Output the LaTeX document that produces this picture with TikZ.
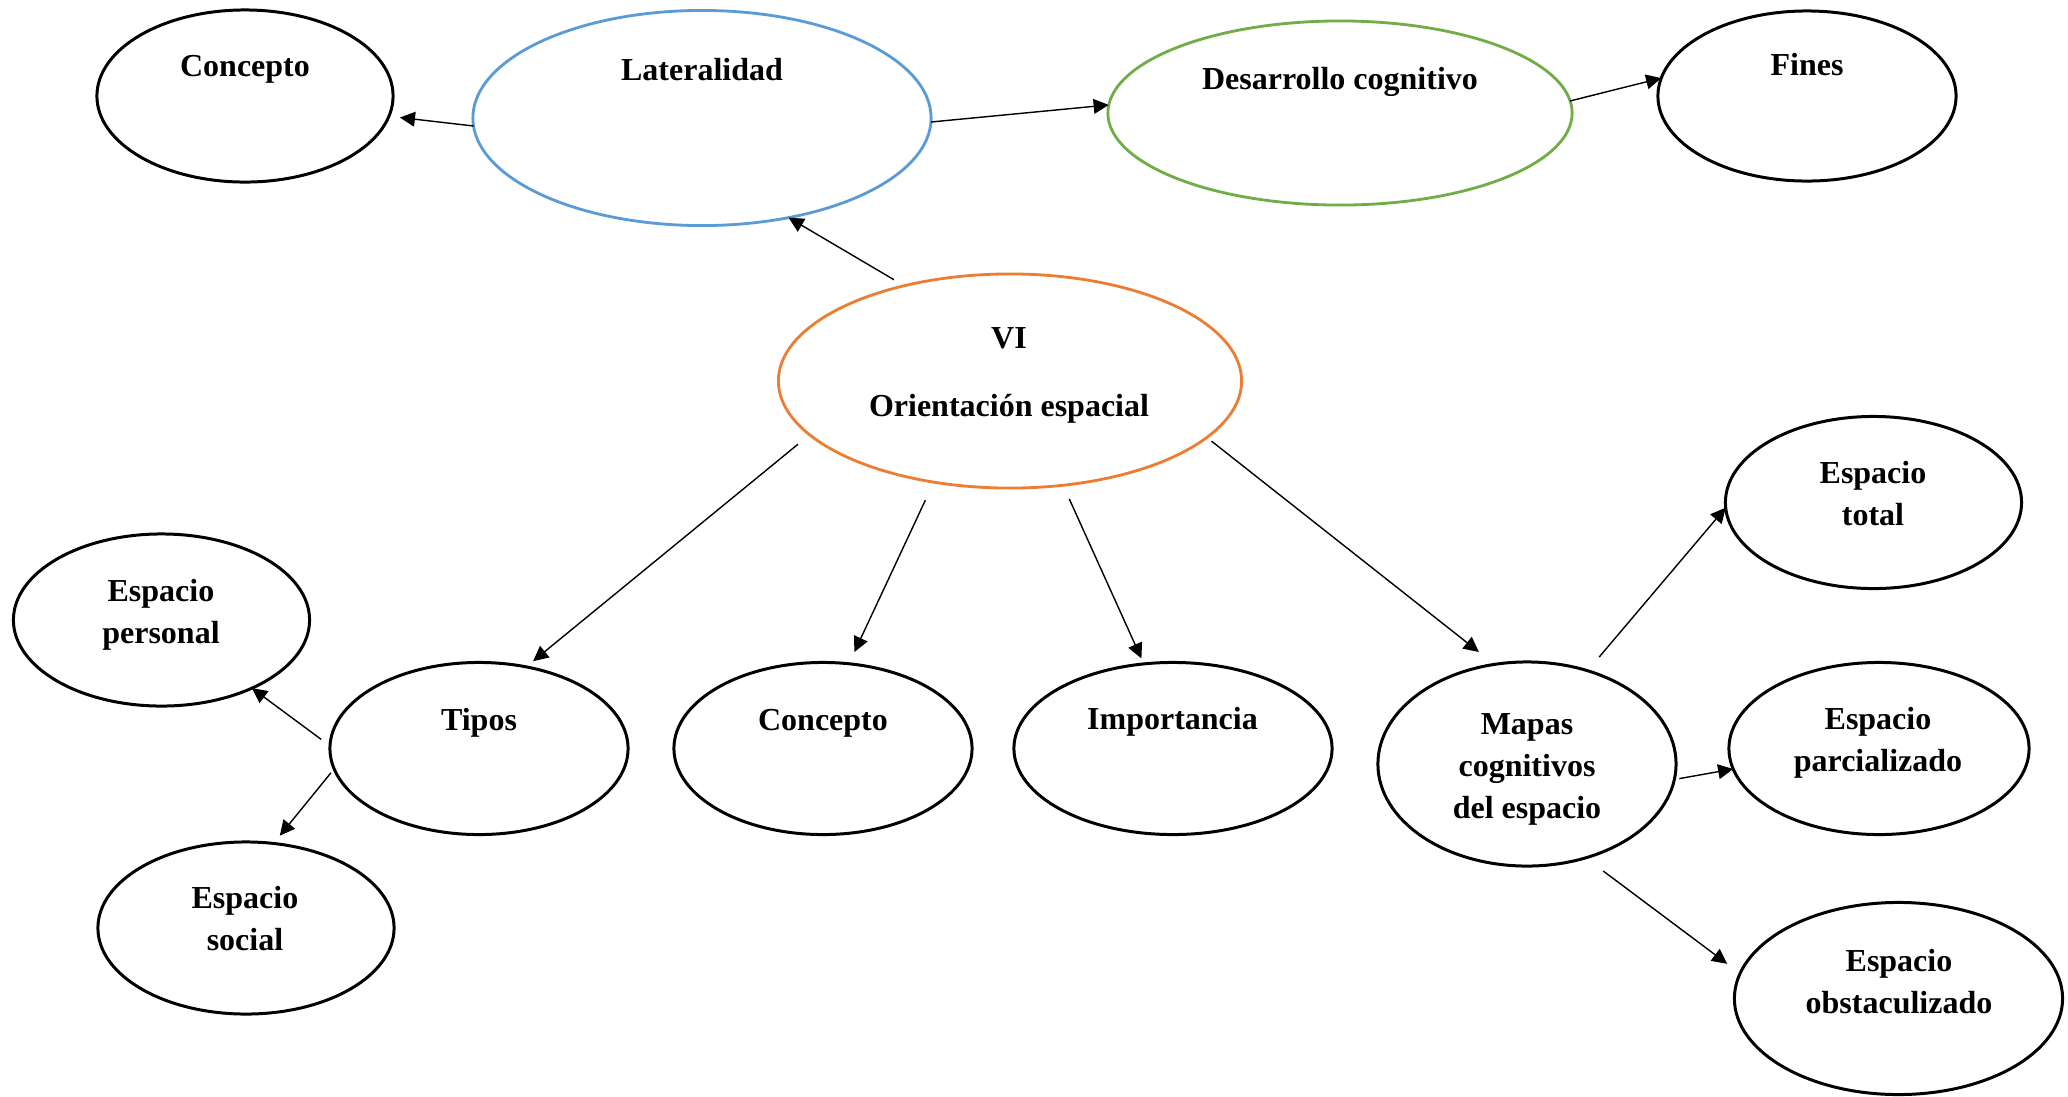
\documentclass[tikz,border=0pt]{standalone}
\usepackage{fontspec}
\setmainfont{Liberation Serif}
\usetikzlibrary{shapes.geometric,arrows.meta}
\definecolor{lblue}{HTML}{5B9BD5}
\definecolor{lorange}{HTML}{ED7D31}
\definecolor{lgreen}{HTML}{70AD47}
\begin{document}
\begin{tikzpicture}[x=0.01cm,y=-0.01cm,
  oval/.style={ellipse,draw=black,line width=0.85pt,inner sep=0pt,outer sep=0pt},
  lbl/.style={anchor=base,inner sep=0pt,font=\fontsize{9.1}{11}\selectfont\bfseries},
  conn/.style={-{Triangle[length=4.3pt,width=4.2pt]},line width=0.4pt}]
\useasboundingbox[fill=white] (0,0) rectangle (2068,1096);

% ellipses
\node[oval,minimum width=2.96cm,minimum height=1.72cm] (con1) at (245,96) {};
\node[oval,draw=lblue,line width=0.8pt,minimum width=4.58cm,minimum height=2.15cm] (lat) at (702,118) {};
\node[oval,draw=lgreen,line width=0.8pt,minimum width=4.64cm,minimum height=1.84cm] (des) at (1340,113) {};
\node[oval,minimum width=2.98cm,minimum height=1.70cm] (fin) at (1807,96) {};
\node[oval,draw=lorange,line width=0.8pt,minimum width=4.63cm,minimum height=2.14cm] (vi) at (1010,381) {};
\node[oval,minimum width=2.96cm,minimum height=1.72cm] (ep) at (161.5,620) {};
\node[oval,minimum width=2.98cm,minimum height=1.72cm] (tip) at (479,748.5) {};
\node[oval,minimum width=2.98cm,minimum height=1.72cm] (con2) at (823,748.5) {};
\node[oval,minimum width=3.18cm,minimum height=1.72cm] (imp) at (1173,748.5) {};
\node[oval,minimum width=2.98cm,minimum height=2.04cm] (map) at (1527,764) {};
\node[oval,minimum width=2.96cm,minimum height=1.72cm] (et) at (1873.5,502.5) {};
\node[oval,minimum width=3.00cm,minimum height=1.72cm] (epz) at (1879,748.5) {};
\node[oval,minimum width=3.28cm,minimum height=1.92cm] (eo) at (1898.5,998.5) {};
\node[oval,minimum width=2.96cm,minimum height=1.72cm] (es) at (246,928) {};

% texts
\node[lbl] (con1-t) at (245,76) {Concepto};
\node[lbl] (lat-t) at (702,80) {Lateralidad};
\node[lbl] (des-t) at (1340,89) {Desarrollo cognitivo};
\node[lbl] (fin-t) at (1807,75) {Fines};
\node[lbl] (vi-t1) at (1009,348) {VI};
\node[lbl] (vi-t2) at (1009,416) {Orientación espacial};
\node[lbl] (ep-t1) at (161,601) {Espacio};
\node[lbl] (ep-t2) at (161,643) {personal};
\node[lbl] (tip-t) at (479,730) {Tipos};
\node[lbl] (con2-t) at (823,730) {Concepto};
\node[lbl] (imp-t) at (1172.5,729) {Importancia};
\node[lbl] (map-t1) at (1527,734) {Mapas};
\node[lbl] (map-t2) at (1527,776) {cognitivos};
\node[lbl] (map-t3) at (1527,818) {del espacio};
\node[lbl] (et-t1) at (1873,483.5) {Espacio};
\node[lbl] (et-t2) at (1873,525.5) {total};
\node[lbl] (epz-t1) at (1878,729) {Espacio};
\node[lbl] (epz-t2) at (1878,771) {parcializado};
\node[lbl] (eo-t1) at (1899,971.5) {Espacio};
\node[lbl] (eo-t2) at (1899,1013.5) {obstaculizado};
\node[lbl] (es-t1) at (245,908) {Espacio};
\node[lbl] (es-t2) at (245,950) {social};

% connectors
\draw[conn,shorten >=0.11cm] (lat.182) -- (con1.352);
\draw[conn] (lat.359) -- (des.178);
\draw[conn] (des.3) -- (fin.173);
\draw[conn,shorten <=0.12cm] (vi.138) -- (lat.311);
\draw[conn,shorten <=0.15cm,shorten >=0.09cm] (vi.195) -- (tip.60);
\draw[conn,shorten <=0.2cm,shorten >=0.13cm] (vi.233) -- (con2.73);
\draw[conn,shorten <=0.15cm,shorten >=0.06cm] (vi.297) -- (imp.109);
\draw[conn,shorten <=0.06cm,shorten >=0.2cm] (vi.344) -- (map.108);
\draw[conn,shorten <=0.11cm] (tip.179) -- (ep.323);
\draw[conn,shorten <=0.05cm,shorten >=0.1cm] (tip.188) -- (es.72);
\draw[conn,shorten <=0.18cm] (map.57) -- (et.182);
\draw[conn,shorten <=0.05cm] (map.354) -- (epz.188);
\draw[conn,shorten <=0.22cm,shorten >=0.16cm] (map.302) -- (eo.171);
\end{tikzpicture}
\end{document}
